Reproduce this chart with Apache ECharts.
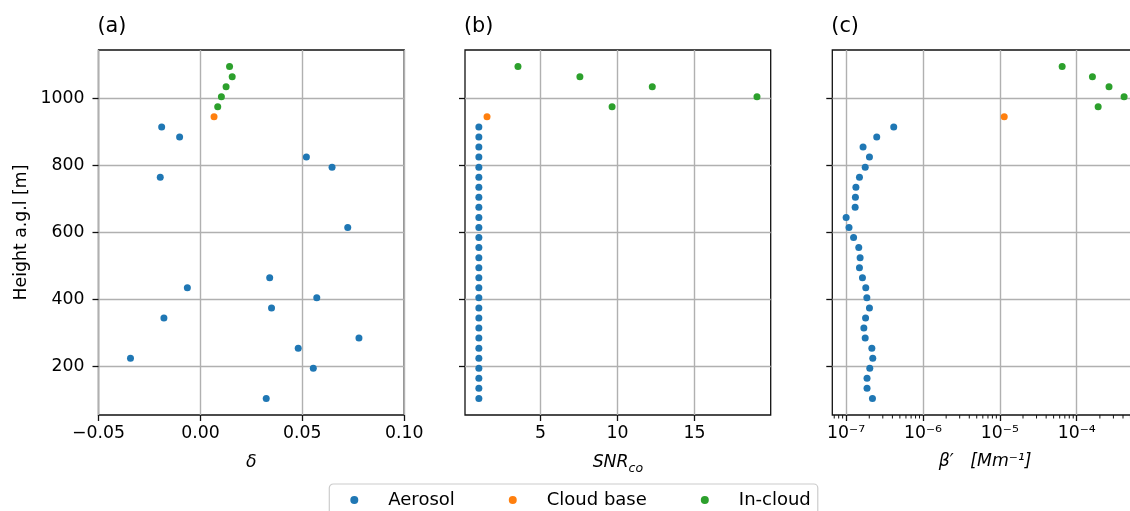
<!DOCTYPE html>
<html>
<head>
<meta charset="utf-8">
<script src="https://cdn.jsdelivr.net/npm/echarts@6/dist/echarts.min.js"></script>
<style>
  html, body { margin: 0; padding: 0; background: #ffffff; }
  #chart { width: 1130px; height: 511px; }
</style>
</head>
<body>
<div id="chart"></div>
<script>
// Heights above ground level [m] for each class of range gate
const heightAerosol = [105, 135, 165, 195, 225, 255, 285, 315, 345, 375, 405, 435, 465, 495,
                       525, 555, 585, 615, 645, 675, 705, 735, 765, 795, 825, 855, 885, 915];
const heightCloudBase = [945];
const heightInCloud = [975, 1005, 1035, 1065, 1095];

// Depolarisation ratio (null = outside the plotted range)
const deltaAerosol = [0.0323, null, null, 0.0554, -0.0343, 0.048, 0.0778, null, -0.0179, 0.0349,
                      0.0571, -0.0064, 0.0340, -0.052, null, null, null, 0.0723, null, null,
                      null, null, -0.0197, 0.0646, 0.052, null, -0.0102, -0.019];
const deltaCloudBase = [0.0067];
const deltaInCloud = [0.0085, 0.0103, 0.0126, 0.0156, 0.0143];

// Co-polar signal-to-noise ratio
const snrAerosol = [1.0, 1.0, 1.0, 1.0, 1.0, 1.0, 1.0, 1.0, 1.0, 1.0, 1.0, 1.0, 1.0, 1.0,
                    1.0, 1.0, 1.0, 1.0, 1.0, 1.0, 1.0, 1.0, 1.0, 1.0, 1.0, 1.0, 1.0, 1.0];
const snrCloudBase = [1.53];
const snrInCloud = [9.65, 19.06, 12.26, 7.56, 3.54];

// Attenuated backscatter [Mm-1]
const betaAerosol = [2.20e-7, 1.87e-7, 1.87e-7, 2.03e-7, 2.22e-7, 2.16e-7, 1.77e-7, 1.70e-7,
                     1.79e-7, 2.01e-7, 1.86e-7, 1.80e-7, 1.63e-7, 1.49e-7, 1.52e-7, 1.46e-7,
                     1.25e-7, 1.09e-7, 1.00e-7, 1.31e-7, 1.32e-7, 1.34e-7, 1.49e-7, 1.77e-7,
                     2.01e-7, 1.66e-7, 2.50e-7, 4.16e-7];
const betaCloudBase = [1.14e-5];
const betaInCloud = [1.90e-4, 4.13e-4, 2.63e-4, 1.60e-4, 6.46e-5];

// Tick labels
const heightTicks = [200, 400, 600, 800, 1000];
const deltaTicks = [-0.05, 0.00, 0.05, 0.10];
const snrTicks = [5, 10, 15];
const betaTicks = [1e-7, 1e-6, 1e-5, 1e-4];

const classNames = ['Aerosol', 'Cloud base', 'In-cloud'];
const classColors = ['#1f77b4', '#ff7f0e', '#2ca02c'];

const FONT = 'DejaVu Sans';
const TICK_FS = 17.3;
const FRAME = '#111111';
const GRIDC = '#b0b0b0';

const Y_MIN = 55.5, Y_MAX = 1144.5;
const GRID_TOP = 50, GRID_H = 365, GRID_W = 305.7;
const gridLefts = [98.5, 465, 832.3];

function pairs(xs, ys) {
  const out = [];
  for (let i = 0; i < xs.length; i++) {
    if (xs[i] !== null) out.push([xs[i], ys[i]]);
  }
  return out;
}

const SUP = { '-': '\u207B', '0': '\u2070', '1': '\u00B9', '2': '\u00B2', '3': '\u00B3',
              '4': '\u2074', '5': '\u2075', '6': '\u2076', '7': '\u2077', '8': '\u2078', '9': '\u2079' };
function powLabel(v) {
  const e = String(Math.round(Math.log10(v)));
  return '10' + e.split('').map(c => SUP[c]).join('');
}

const tickStyle = { show: true, inside: false, length: 6, lineStyle: { color: FRAME, width: 1.3 } };
const splitStyle = { show: true, lineStyle: { color: GRIDC, width: 1.4 } };

function yAxisFor(i) {
  return {
    type: 'value', gridIndex: i, min: Y_MIN, max: Y_MAX, splitNumber: 5,
    axisLine: { show: false, onZero: false },
    axisTick: Object.assign({ customValues: heightTicks }, tickStyle),
    axisLabel: i === 0 ? {
      show: true, customValues: heightTicks, margin: 14,
      fontFamily: FONT, fontSize: TICK_FS, color: '#000',
      formatter: v => String(Math.round(v))
    } : { show: false },
    splitLine: splitStyle,
    name: i === 0 ? 'Height a.g.l [m]' : '',
    nameLocation: 'middle', nameRotate: 90, nameGap: 68,
    nameTextStyle: { fontFamily: FONT, fontSize: TICK_FS, color: '#000' }
  };
}

const xAxes = [
  {
    type: 'value', gridIndex: 0, min: -0.05, max: 0.10, interval: 0.05,
    axisLine: { show: false, onZero: false },
    axisTick: Object.assign({ customValues: deltaTicks }, tickStyle),
    axisLabel: {
      customValues: deltaTicks, margin: 10, fontFamily: FONT, fontSize: TICK_FS, color: '#000',
      formatter: v => v.toFixed(2).replace('-', '\u2212')
    },
    splitLine: splitStyle,
    name: '\u03B4', nameLocation: 'middle', nameGap: 39,
    nameTextStyle: { fontFamily: FONT, fontSize: TICK_FS, fontStyle: 'italic', color: '#000' }
  },
  {
    type: 'value', gridIndex: 1, min: 0.1, max: 19.95, splitNumber: 4,
    axisLine: { show: false, onZero: false },
    axisTick: Object.assign({ customValues: snrTicks }, tickStyle),
    axisLabel: {
      customValues: snrTicks, margin: 10, fontFamily: FONT, fontSize: TICK_FS, color: '#000'
    },
    splitLine: splitStyle,
    name: '{a|SNR}{b|co}', nameLocation: 'middle', nameGap: 36,
    nameTextStyle: {
      fontFamily: FONT, color: '#000',
      rich: {
        a: { fontFamily: FONT, fontSize: TICK_FS, fontStyle: 'italic', color: '#000', lineHeight: 24 },
        b: { fontFamily: FONT, fontSize: 12.5, fontStyle: 'italic', color: '#000',
             lineHeight: 11, verticalAlign: 'bottom' }
      }
    }
  },
  {
    type: 'log', logBase: 10, gridIndex: 2, min: Math.pow(10, -7.18), max: Math.pow(10, -3.203),
    axisLine: { show: false, onZero: false },
    axisTick: Object.assign({ customValues: betaTicks }, tickStyle),
    axisLabel: {
      customValues: betaTicks, margin: 10, fontFamily: FONT, fontSize: TICK_FS, color: '#000',
      formatter: v => powLabel(v)
    },
    splitLine: splitStyle,
    name: '\u03B2\u2032   [Mm\u207B\u00B9]', nameLocation: 'middle', nameGap: 38,
    nameTextStyle: { fontFamily: FONT, fontSize: TICK_FS, fontStyle: 'italic', color: '#000' }
  }
];

// Minor ticks of the logarithmic axis: 2..9 times each power of ten inside the range
const betaMinor = [];
for (let d = -8; d <= -4; d++) {
  for (let m = 2; m <= 9; m++) {
    const v = m * Math.pow(10, d);
    if (v > Math.pow(10, -7.18) && v < Math.pow(10, -3.203)) betaMinor.push([v, Y_MIN]);
  }
}

const panelX = [
  [deltaAerosol, deltaCloudBase, deltaInCloud],
  [snrAerosol, snrCloudBase, snrInCloud],
  [betaAerosol, betaCloudBase, betaInCloud]
];
const panelY = [heightAerosol, heightCloudBase, heightInCloud];

const series = [];
for (let p = 0; p < 3; p++) {
  for (let c = 0; c < 3; c++) {
    series.push({
      type: 'scatter', name: classNames[c], xAxisIndex: p, yAxisIndex: p,
      data: pairs(panelX[p][c], panelY[c]),
      symbol: 'circle', symbolSize: 7,
      itemStyle: { color: classColors[c], opacity: 1 },
      emphasis: { disabled: true }, silent: true, clip: true
    });
  }
}
series.push({
  type: 'custom', name: 'minor', xAxisIndex: 2, yAxisIndex: 2, clip: false, silent: true,
  data: betaMinor,
  renderItem: function (params, api) {
    const pt = api.coord([api.value(0), api.value(1)]);
    return {
      type: 'line',
      shape: { x1: pt[0], y1: pt[1], x2: pt[0], y2: pt[1] + 3.5 },
      style: { stroke: FRAME, lineWidth: 1 }
    };
  }
});

const chart = echarts.init(document.getElementById('chart'), null, { renderer: 'canvas' });
chart.setOption({
  animation: false,
  backgroundColor: '#ffffff',
  title: ['(a)', '(b)', '(c)'].map((t, i) => ({
    text: t, left: gridLefts[i] - 1, top: 16, padding: 0,
    textStyle: { fontFamily: FONT, fontSize: 20.8, fontWeight: 'normal', color: '#000' }
  })),
  grid: gridLefts.map(l => ({
    left: l, top: GRID_TOP, width: GRID_W, height: GRID_H,
    show: true, borderColor: FRAME, borderWidth: 1.3, backgroundColor: 'transparent',
    containLabel: false, outerBoundsMode: 'none'
  })),
  xAxis: xAxes,
  yAxis: [0, 1, 2].map(yAxisFor),
  legend: {
    data: classNames, left: 329.3, top: 484, orient: 'horizontal',
    icon: 'circle', itemWidth: 20, itemHeight: 8, itemGap: 54,
    padding: [6, 7, 8, 21], borderColor: '#cccccc', borderWidth: 1.2, borderRadius: 4,
    backgroundColor: '#ffffff', selectedMode: false,
    textStyle: { fontFamily: FONT, fontSize: 18, color: '#000', lineHeight: 20, padding: [0, 0, 0, 19] }
  },
  series: series
});
</script>
</body>
</html>
